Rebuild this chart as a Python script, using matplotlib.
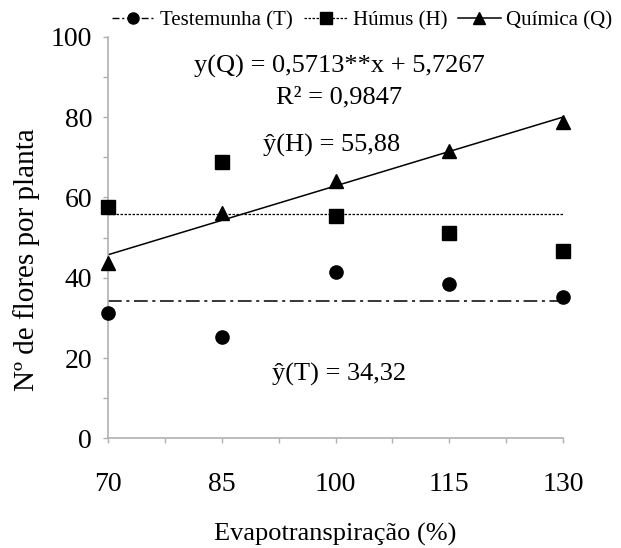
import matplotlib.pyplot as plt
from matplotlib.lines import Line2D

# evapotranspiration levels (%) and flowers per plant
etp = [70, 85, 100, 115, 130]
testemunha = [31.2, 25.3, 41.5, 38.4, 35.2]
humus = [57.5, 68.8, 55.4, 51.1, 46.6]
quimica = [43.7, 56.1, 64.2, 71.6, 78.8]

# fitted models
coef_q = 0.5713
inter_q = 5.7267
mean_h = 55.88
mean_t = 34.32


def main():
    plt.rcParams['font.family'] = ['Liberation Serif', 'DejaVu Serif']
    fig = plt.figure(figsize=(6.21, 5.48), dpi=100)
    ax = fig.add_axes([0.174, 0.2, 0.7326, 0.733])

    gray = '#b0b0b0'

    ax.plot(etp, testemunha, 'o', color='black', markersize=9.5, clip_on=False, zorder=3)
    ax.plot(etp, humus, 's', color='black', markersize=9.5, clip_on=False, zorder=3)
    ax.plot(etp, quimica, '^', color='black', markersize=10.5, clip_on=False, zorder=3)

    # regression / mean lines over the whole range
    x0, x1 = etp[0], etp[-1]
    ax.plot([x0, x1], [coef_q * x0 + inter_q, coef_q * x1 + inter_q], '-', color='black', lw=1.1)
    ax.plot([x0, x1], [mean_h, mean_h], color='black', lw=0.9, dashes=(2, 1.2))
    ax.plot([x0, x1], [mean_t, mean_t], color='black', lw=1.1, dashes=(9, 3, 2, 3))

    ax.set_xlim(70, 130)
    ax.set_ylim(0, 100)
    ax.set_xticks([70, 85, 100, 115, 130])
    ax.set_xticks([77.5, 92.5, 107.5, 122.5], minor=True)
    ax.set_yticks([0, 20, 40, 60, 80, 100])
    ax.set_yticks([10, 30, 50, 70, 90], minor=True)
    ax.tick_params(which='both', direction='out', length=3.5, color=gray, width=1, labelsize=20)
    ax.tick_params(axis='x', which='both', pad=21)
    ax.tick_params(axis='y', which='both', pad=8)
    for s in ['top', 'right']:
        ax.spines[s].set_visible(False)
    for s in ['left', 'bottom']:
        ax.spines[s].set_color(gray)
        ax.spines[s].set_linewidth(1.2)

    ax.set_xlabel('Evapotranspiração (%)', fontsize=19, labelpad=18)
    ax.set_ylabel('Nº de flores por planta', fontsize=21)
    ax.yaxis.set_label_coords(-0.15, 0.446)

    ax.text(100.5, 91.0, 'y(Q) = 0,5713**x + 5,7267', ha='center', va='baseline', fontsize=19)
    ax.text(100.5, 83.5, 'R² = 0,9847', ha='center', va='baseline', fontsize=19)
    ax.text(99.5, 71.4, 'ŷ(H) = 55,88', ha='center', va='baseline', fontsize=19)
    ax.text(100.5, 14.5, 'ŷ(T) = 34,32', ha='center', va='baseline', fontsize=19)

    handles = [
        Line2D([], [], color='black', marker='o', markersize=8, lw=1, dashes=(5, 2, 1.5, 2)),
        Line2D([], [], color='black', marker='s', markersize=8, lw=0.9, dashes=(2, 1.2)),
        Line2D([], [], color='black', marker='^', markersize=9, lw=1.1),
    ]
    fig.legend(handles, ['Testemunha (T)', 'Húmus (H)', 'Química (Q)'],
               loc='center', bbox_to_anchor=(0.583, 0.963), ncol=3, frameon=False,
               prop={'family': ['Liberation Serif', 'DejaVu Serif'], 'size': 15},
               handlelength=2.1, handletextpad=0.25, columnspacing=0.5)

    fig.savefig('out.png', dpi=100)
    plt.close(fig)


if __name__ == "__main__":
    main()
